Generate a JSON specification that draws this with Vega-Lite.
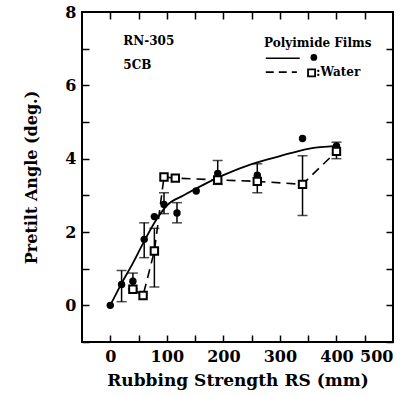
{
  "$schema": "https://vega.github.io/schema/vega-lite/v6.json",
  "width": 311,
  "height": 330,
  "autosize": {"type": "none"},
  "padding": {"left": 82, "top": 12, "right": 24, "bottom": 54},
  "background": "white",
  "config": {
    "view": {"stroke": "black", "strokeWidth": 2},
    "axis": {"labelFont": "DejaVu Serif", "labelFontWeight": "bold", "labelFontSize": 16, "labelColor": "black", "titleFont": "DejaVu Serif", "titleFontWeight": "bold", "titleColor": "black", "tickColor": "black", "domain": false, "grid": false}
  },
  "datasets": {
    "curve": [
      {"rs": 0, "angle": 0}, {"rs": 20, "angle": 0.6}, {"rs": 40, "angle": 1.15}, {"rs": 60, "angle": 1.75},
      {"rs": 80, "angle": 2.3}, {"rs": 100, "angle": 2.72}, {"rs": 130, "angle": 3.0}, {"rs": 160, "angle": 3.25},
      {"rs": 200, "angle": 3.55}, {"rs": 250, "angle": 3.85}, {"rs": 300, "angle": 4.07}, {"rs": 350, "angle": 4.27}, {"rs": 400, "angle": 4.35}
    ],
    "poly": [
      {"rs": 0, "angle": 0}, {"rs": 20, "angle": 0.57}, {"rs": 40, "angle": 0.66}, {"rs": 60, "angle": 1.8},
      {"rs": 78, "angle": 2.42}, {"rs": 95, "angle": 2.75}, {"rs": 118, "angle": 2.52}, {"rs": 152, "angle": 3.12},
      {"rs": 190, "angle": 3.6}, {"rs": 260, "angle": 3.55}, {"rs": 340, "angle": 4.55}, {"rs": 400, "angle": 4.35}
    ],
    "water": [
      {"rs": 40, "angle": 0.44}, {"rs": 58, "angle": 0.27}, {"rs": 78, "angle": 1.48}, {"rs": 95, "angle": 3.5},
      {"rs": 115, "angle": 3.47}, {"rs": 190, "angle": 3.42}, {"rs": 260, "angle": 3.38}, {"rs": 340, "angle": 3.3}, {"rs": 400, "angle": 4.2}
    ],
    "errs": [
      {"rs": 20, "lo": 0.1, "hi": 0.95}, {"rs": 40, "lo": 0.45, "hi": 0.88}, {"rs": 60, "lo": 1.3, "hi": 2.25},
      {"rs": 95, "lo": 2.5, "hi": 3.07}, {"rs": 118, "lo": 2.25, "hi": 2.8}, {"rs": 190, "lo": 3.3, "hi": 3.95},
      {"rs": 78, "lo": 0.5, "hi": 2.1}, {"rs": 260, "lo": 3.07, "hi": 3.86}, {"rs": 340, "lo": 2.45, "hi": 4.08}, {"rs": 400, "lo": 4.0, "hi": 4.45}
    ]
  },
  "resolve": {"axis": {"x": "independent", "y": "independent"}},
  "layer": [
    {
      "data": {"name": "curve"},
      "mark": {"type": "line", "color": "black", "strokeWidth": 1.8, "interpolate": "monotone"},
      "encoding": {
        "x": {"field": "rs", "type": "quantitative", "scale": {"domain": [-50, 500], "nice": false, "zero": false},
              "axis": {"orient": "bottom", "values": [0, 100, 200, 300, 400, 500], "ticks": false, "labelPadding": 6, "title": "Rubbing Strength RS (mm)", "titleFontSize": 17, "titlePadding": 8}},
        "y": {"field": "angle", "type": "quantitative", "scale": {"domain": [-1, 8], "nice": false, "zero": false},
              "axis": {"orient": "left", "values": [0, 2, 4, 6, 8], "ticks": false, "labelPadding": 6, "title": "Pretilt Angle (deg.)", "titleFontSize": 16, "titlePadding": 25}}
      }
    },
    {
      "data": {"name": "water"},
      "mark": {"type": "line", "color": "black", "strokeWidth": 1.6, "strokeDash": [9, 6]},
      "encoding": {
        "x": {"field": "rs", "type": "quantitative", "scale": {"domain": [-50, 500], "nice": false, "zero": false},
              "axis": {"orient": "bottom", "values": [0, 50, 100, 150, 200, 250, 300, 350, 400, 450], "labels": false, "tickSize": -7, "tickWidth": 1.5, "title": null}},
        "y": {"field": "angle", "type": "quantitative", "scale": {"domain": [-1, 8], "nice": false, "zero": false},
              "axis": {"orient": "left", "values": [-1, 0, 1, 2, 3, 4, 5, 6, 7], "labels": false, "tickSize": -7, "tickWidth": 1.5, "title": null}}
      }
    },
    {
      "data": {"name": "errs"},
      "mark": {"type": "errorbar", "ticks": {"size": 10, "thickness": 1.5, "color": "black"}, "thickness": 1.5, "color": "black"},
      "encoding": {
        "x": {"field": "rs", "type": "quantitative", "axis": null},
        "y": {"field": "lo", "type": "quantitative", "axis": null},
        "y2": {"field": "hi"}
      }
    },
    {
      "data": {"name": "poly"},
      "mark": {"type": "point", "shape": "circle", "filled": true, "color": "black", "size": 55, "opacity": 1},
      "encoding": {
        "x": {"field": "rs", "type": "quantitative",
              "axis": {"orient": "top", "values": [0, 50, 100, 150, 200, 250, 300, 350, 400, 450], "labels": false, "tickSize": -7, "tickWidth": 1.5, "title": null}},
        "y": {"field": "angle", "type": "quantitative",
              "axis": {"orient": "right", "values": [-1, 0, 1, 2, 3, 4, 5, 6, 7], "labels": false, "tickSize": -7, "tickWidth": 1.5, "title": null}}
      }
    },
    {
      "data": {"name": "water"},
      "mark": {"type": "point", "shape": "square", "filled": true, "fill": "white", "stroke": "black", "strokeWidth": 2, "size": 55, "opacity": 1},
      "encoding": {
        "x": {"field": "rs", "type": "quantitative", "axis": null},
        "y": {"field": "angle", "type": "quantitative", "axis": null}
      }
    },
    {
      "data": {"values": [{}]},
      "mark": {"type": "rule", "color": "black", "strokeWidth": 1.6},
      "encoding": {
        "x": {"datum": 275, "type": "quantitative", "axis": null},
        "x2": {"datum": 335},
        "y": {"datum": 6.74, "type": "quantitative", "axis": null}
      }
    },
    {
      "data": {"values": [{}]},
      "mark": {"type": "rule", "color": "black", "strokeWidth": 1.6, "strokeDash": [8, 5]},
      "encoding": {
        "x": {"datum": 275, "type": "quantitative", "axis": null},
        "x2": {"datum": 330},
        "y": {"datum": 6.36, "type": "quantitative", "axis": null}
      }
    },
    {
      "data": {"values": [{}]},
      "mark": {"type": "point", "shape": "circle", "filled": true, "color": "black", "size": 45, "opacity": 1},
      "encoding": {
        "x": {"datum": 360, "type": "quantitative", "axis": null},
        "y": {"datum": 6.76, "type": "quantitative", "axis": null}
      }
    },
    {
      "data": {"values": [{}]},
      "mark": {"type": "point", "shape": "square", "filled": true, "fill": "white", "stroke": "black", "strokeWidth": 1.8, "size": 50, "opacity": 1},
      "encoding": {
        "x": {"datum": 356, "type": "quantitative", "axis": null},
        "y": {"datum": 6.34, "type": "quantitative", "axis": null}
      }
    },
    {
      "data": {"values": [
        {"label": "Polyimide Films", "lx": 272, "ly": 7.15},
        {"label": ":Water", "lx": 364, "ly": 6.36},
        {"label": "RN-305", "lx": 23, "ly": 7.22},
        {"label": "5CB", "lx": 23, "ly": 6.55}
      ]},
      "mark": {"type": "text", "align": "left", "baseline": "middle", "font": "DejaVu Serif", "fontWeight": "bold", "fontSize": 12, "color": "black"},
      "encoding": {
        "x": {"field": "lx", "type": "quantitative", "axis": null},
        "y": {"field": "ly", "type": "quantitative", "axis": null},
        "text": {"field": "label"}
      }
    }
  ]
}
